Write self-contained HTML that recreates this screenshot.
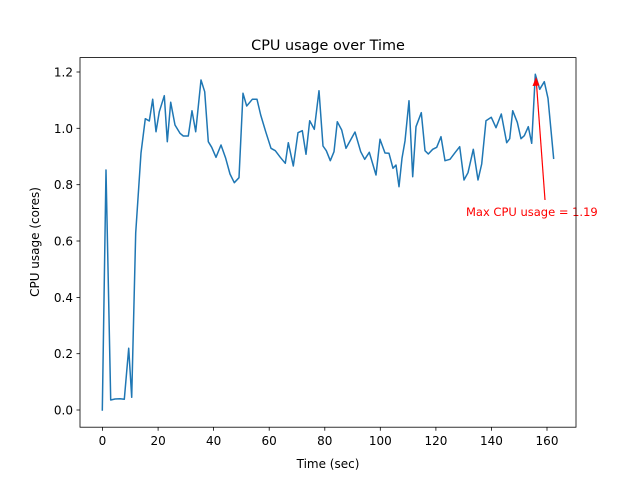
<!DOCTYPE html>
<html><head><meta charset="utf-8"><style>body{margin:0;background:#fff}svg{display:block}text{font-family:"DejaVu Sans","Liberation Sans",sans-serif}</style></head>
<body>
<svg width="640" height="480" viewBox="0 0 640 480" xmlns="http://www.w3.org/2000/svg">
<rect width="640" height="480" fill="#fff"/>
<text x="328" y="50" font-size="14.4" text-anchor="middle">CPU usage over Time</text>
<polyline fill="none" stroke="#1f77b4" stroke-width="1.5" stroke-linejoin="round" points="102.3,410.7 106,170 110.7,400 115,399 120,398.7 124.3,399.3 128.7,348.3 131.7,397.3 135.7,233 141,153 145.3,118.7 149.3,121 152.7,99.3 156,131.7 159.3,111.7 164.3,95.7 167.3,141.7 170.7,102.3 175,125 180,133.3 183.3,136 188.3,136 192,110.7 195.7,131.7 201,80 204.7,91.7 208.3,141.7 211.7,147.3 216,157.3 221,145 225.7,158.3 230,174 234.3,182.7 239,177.7 243,93.3 246.7,106 252.3,99.3 257,99.3 260.7,115 265.7,131.7 271,148.3 275.3,150.7 280.3,157.3 285.3,163.3 288.3,142.7 293.3,166 298,132.7 302.3,130.7 306,154.3 309.7,120.7 314.3,129.3 319,90.7 323,146 326.3,150.7 330.3,160.7 334,151.7 337.3,121.7 341.7,130 346,148.3 355,132 360.7,151.7 364.7,159.3 369.3,152.3 376,175 380,139.3 385,153 389,153.3 393,168.3 396,165 399,186.7 402,158.3 405,141 409,100.7 412.7,176.7 416,126.7 421.3,112.7 425,150.7 428.3,154 432.7,149.3 436.7,147.3 441,136.7 445,160.7 450,159.3 455,152.7 459.7,146.7 464,180 468,172.7 473.3,149.3 478,180 481.7,164 486,120.7 491.3,117.3 496,127.7 501.3,114 506.7,142.7 509.7,138.7 512.7,110.7 517.3,122.3 521,138.7 524.3,135.7 528.3,126.7 531.7,143.3 535.3,74.3 539.7,89.3 544.3,81.7 548,98.3 553.7,159"/>
<line x1="545" y1="200" x2="536.5" y2="84" stroke="red" stroke-width="1.2"/>
<polygon points="536,77 532.5,86 539.5,85.5" fill="red"/>
<text x="466" y="216" font-size="11.5" fill="red">Max CPU usage = 1.19</text>
<rect x="80" y="57.6" width="496" height="369.6" fill="none" stroke="#000" stroke-width="0.8"/>
<g stroke="#000" stroke-width="0.8">
<line x1="102.5" y1="427.2" x2="102.5" y2="430.7"/><line x1="158.1" y1="427.2" x2="158.1" y2="430.7"/><line x1="213.6" y1="427.2" x2="213.6" y2="430.7"/><line x1="269.2" y1="427.2" x2="269.2" y2="430.7"/><line x1="324.8" y1="427.2" x2="324.8" y2="430.7"/><line x1="380.3" y1="427.2" x2="380.3" y2="430.7"/><line x1="435.9" y1="427.2" x2="435.9" y2="430.7"/><line x1="491.4" y1="427.2" x2="491.4" y2="430.7"/><line x1="547" y1="427.2" x2="547" y2="430.7"/>
<line x1="76.5" y1="410" x2="80" y2="410"/><line x1="76.5" y1="353.7" x2="80" y2="353.7"/><line x1="76.5" y1="297.4" x2="80" y2="297.4"/><line x1="76.5" y1="241" x2="80" y2="241"/><line x1="76.5" y1="184.7" x2="80" y2="184.7"/><line x1="76.5" y1="128.3" x2="80" y2="128.3"/><line x1="76.5" y1="72" x2="80" y2="72"/>
</g>
<g font-size="12" text-anchor="middle">
<text x="102.5" y="445">0</text><text x="158.1" y="445">20</text><text x="213.6" y="445">40</text><text x="269.2" y="445">60</text><text x="324.8" y="445">80</text><text x="380.3" y="445">100</text><text x="435.9" y="445">120</text><text x="491.4" y="445">140</text><text x="547" y="445">160</text>
</g>
<g font-size="12" text-anchor="end">
<text x="73" y="414.5">0.0</text><text x="73" y="358.2">0.2</text><text x="73" y="301.9">0.4</text><text x="73" y="245.5">0.6</text><text x="73" y="189.2">0.8</text><text x="73" y="132.8">1.0</text><text x="73" y="76.5">1.2</text>
</g>
<text x="328" y="468" font-size="12" text-anchor="middle">Time (sec)</text>
<text transform="translate(39,242) rotate(-90)" font-size="12" text-anchor="middle">CPU usage (cores)</text>
</svg>
</body></html>
